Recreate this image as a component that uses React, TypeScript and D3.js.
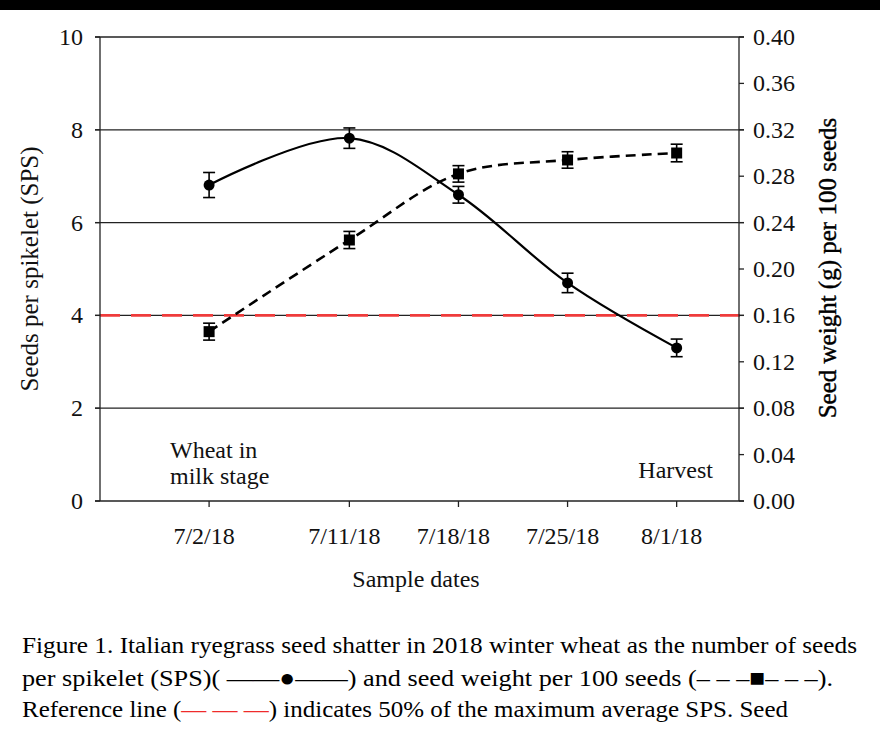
import React, { useEffect } from 'react';
import * as d3 from 'd3';

// sample dates and the two measured series
const sampleDates = ['2018-07-02', '2018-07-11', '2018-07-18', '2018-07-25', '2018-08-01'];
const dateLabels = ['7/2/18', '7/11/18', '7/18/18', '7/25/18', '8/1/18'];
const sps = [6.81, 7.82, 6.6, 4.7, 3.3];
const spsErr = [0.27, 0.22, 0.18, 0.21, 0.19];
const seedWeight = [0.146, 0.225, 0.282, 0.294, 0.3];
const seedWeightErr = [0.0073, 0.0074, 0.0071, 0.0071, 0.0076];
const refLineSps = 4;
const leftTicks = [0, 2, 4, 6, 8, 10];
const rightTicks = [0, 0.04, 0.08, 0.12, 0.16, 0.2, 0.24, 0.28, 0.32, 0.36, 0.4];

const W = 880;
const H = 730;
const FONT = "'Liberation Serif', 'Times New Roman', Times, 'DejaVu Serif', serif";
const plot = { left: 100, right: 739, top: 37, bottom: 501 };

const parse = d3.timeParse('%Y-%m-%d');

export default function App() {
  useEffect(() => {
    document.body.style.margin = '0';
  }, []);

  const x = d3
    .scaleTime()
    .domain([parse('2018-06-25')!, parse('2018-08-05')!])
    .range([plot.left, plot.right]);
  const yL = d3.scaleLinear().domain([0, 10]).range([plot.bottom, plot.top]);
  const yR = d3.scaleLinear().domain([0, 0.4]).range([plot.bottom, plot.top]);

  const pts = sampleDates.map((d, i) => ({
    x: x(parse(d)!),
    sps: sps[i],
    spsErr: spsErr[i],
    wt: seedWeight[i],
    wtErr: seedWeightErr[i],
  }));

  const spsLine = d3
    .line<any>()
    .x(d => d.x)
    .y(d => yL(d.sps))
    .curve(d3.curveCatmullRom.alpha(0.5));
  const wtLine = d3
    .line<any>()
    .x(d => d.x)
    .y(d => yR(d.wt))
    .curve(d3.curveCatmullRom.alpha(0.5));

  const cap = 6;

  return (
    <svg width={W} height={H} style={{ display: 'block', background: '#fff', fontFamily: FONT }}>
      <rect x={0} y={0} width={W} height={10} fill="#000" />

      {/* gridlines */}
      {leftTicks.filter(t => t > 0).map(t => (
        <line key={'g' + t} x1={plot.left - 5} x2={plot.right + 5} y1={yL(t)} y2={yL(t)} stroke="#222" strokeWidth={1.3} />
      ))}

      {/* reference line */}
      <line
        x1={plot.left}
        x2={plot.right + 2}
        y1={yL(refLineSps)}
        y2={yL(refLineSps)}
        stroke="#ef3b3b"
        strokeWidth={2.6}
        strokeDasharray="20,11"
      />

      {/* axes frame */}
      <line x1={plot.left} x2={plot.left} y1={plot.top} y2={plot.bottom} stroke="#222" strokeWidth={1.3} />
      <line x1={plot.right} x2={plot.right} y1={plot.top} y2={plot.bottom} stroke="#222" strokeWidth={1.3} />
      <line x1={plot.left - 5} x2={plot.right + 5} y1={plot.bottom} y2={plot.bottom} stroke="#222" strokeWidth={1.3} />

      {/* left ticks */}
      {leftTicks.map(t => (
        <g key={'l' + t}>
          <line x1={plot.left - 5} x2={plot.left} y1={yL(t)} y2={yL(t)} stroke="#222" strokeWidth={1.3} />
          <text x={83} y={yL(t) + 8} textAnchor="end" fontSize={24} fill="#111">
            {t}
          </text>
        </g>
      ))}

      {/* right ticks */}
      {rightTicks.map(t => (
        <g key={'r' + t}>
          <line x1={plot.right} x2={plot.right + 5} y1={yR(t)} y2={yR(t)} stroke="#222" strokeWidth={1.3} />
          <text x={753} y={yR(t) + 8} fontSize={24} fill="#111">
            {d3.format('.2f')(t)}
          </text>
        </g>
      ))}

      {/* x ticks */}
      {sampleDates.map((d, i) => (
        <g key={d}>
          <line x1={x(parse(d)!)} x2={x(parse(d)!)} y1={plot.bottom} y2={plot.bottom + 6} stroke="#222" strokeWidth={1.3} />
          <text x={x(parse(d)!) - 5} y={544} textAnchor="middle" fontSize={24} fill="#111">
            {dateLabels[i]}
          </text>
        </g>
      ))}

      {/* axis titles */}
      <text x={416} y={587} textAnchor="middle" fontSize={24} fill="#111">
        Sample dates
      </text>
      <text transform="translate(38,269) rotate(-90)" textAnchor="middle" fontSize={25} fill="#111">
        Seeds per spikelet (SPS)
      </text>
      <text transform="translate(836,268) rotate(-90)" textAnchor="middle" fontSize={25} fill="#000" stroke="#000" strokeWidth={0.4}>
        Seed weight (g) per 100 seeds
      </text>

      {/* annotations */}
      <text x={170} y={458} fontSize={24} fill="#111">Wheat in</text>
      <text x={170} y={484} fontSize={24} fill="#111">milk stage</text>
      <text x={713} y={478} textAnchor="end" fontSize={24} fill="#111">Harvest</text>

      {/* seed weight series */}
      <path d={wtLine(pts) || ''} fill="none" stroke="#000" strokeWidth={2.6} strokeDasharray="10,6" />
      {pts.map((p, i) => (
        <g key={'w' + i} stroke="#000" strokeWidth={1.6}>
          <line x1={p.x} x2={p.x} y1={yR(p.wt - p.wtErr)} y2={yR(p.wt + p.wtErr)} />
          <line x1={p.x - cap} x2={p.x + cap} y1={yR(p.wt - p.wtErr)} y2={yR(p.wt - p.wtErr)} />
          <line x1={p.x - cap} x2={p.x + cap} y1={yR(p.wt + p.wtErr)} y2={yR(p.wt + p.wtErr)} />
          <rect x={p.x - 5.5} y={yR(p.wt) - 5.5} width={11} height={11} fill="#000" stroke="none" />
        </g>
      ))}

      {/* SPS series */}
      <path d={spsLine(pts) || ''} fill="none" stroke="#000" strokeWidth={2.2} />
      {pts.map((p, i) => (
        <g key={'s' + i} stroke="#000" strokeWidth={1.6}>
          <line x1={p.x} x2={p.x} y1={yL(p.sps - p.spsErr)} y2={yL(p.sps + p.spsErr)} />
          <line x1={p.x - cap} x2={p.x + cap} y1={yL(p.sps - p.spsErr)} y2={yL(p.sps - p.spsErr)} />
          <line x1={p.x - cap} x2={p.x + cap} y1={yL(p.sps + p.spsErr)} y2={yL(p.sps + p.spsErr)} />
          <circle cx={p.x} cy={yL(p.sps)} r={5.5} fill="#000" stroke="none" />
        </g>
      ))}

      {/* caption */}
      <g fontSize={24} fill="#000">
        <text x={22} y={653} textLength={835} lengthAdjust="spacingAndGlyphs">
          Figure 1. Italian ryegrass seed shatter in 2018 winter wheat as the number of seeds
        </text>
        <text x={22} y={686} textLength={811} lengthAdjust="spacingAndGlyphs">
          per spikelet (SPS)( ——●——) and seed weight per 100 seeds (– – –■– – –).
        </text>
        <text x={22} y={717} textLength={766} lengthAdjust="spacingAndGlyphs">
          Reference line (<tspan fill="#ef2b2b">— — —</tspan>) indicates 50% of the maximum average SPS. Seed
        </text>
      </g>
    </svg>
  );
}
